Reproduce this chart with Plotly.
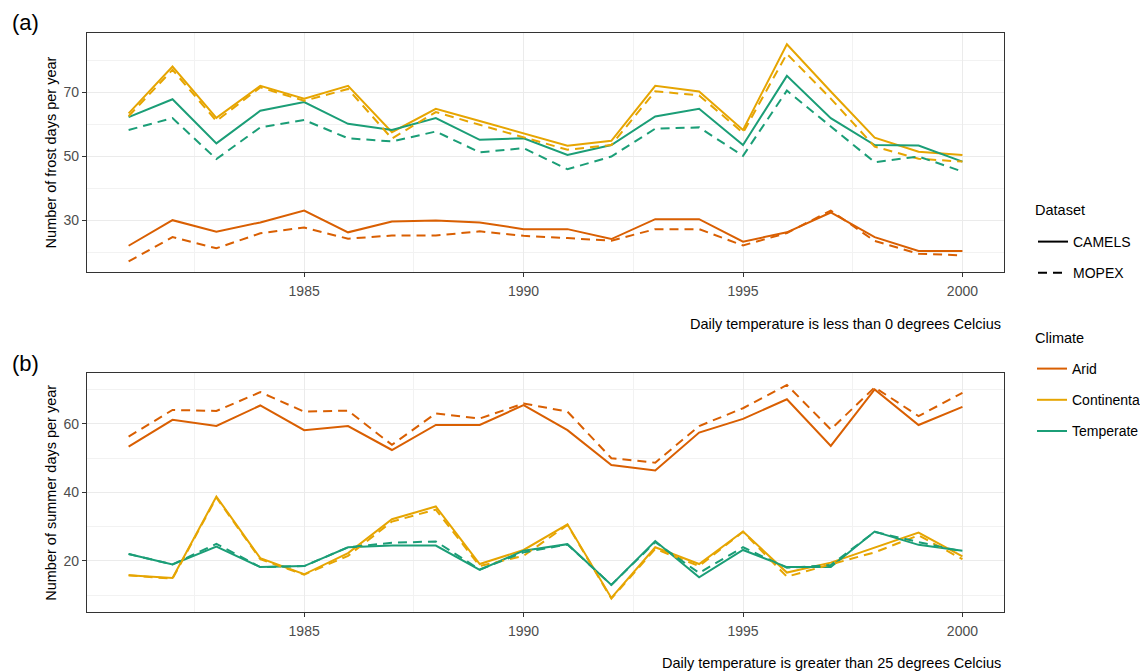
import plotly.graph_objects as go
from plotly.subplots import make_subplots

years = list(range(1981, 2001))

# Panel (a): number of frost days per year
frost_arid_camels = [22, 30, 26.4, 29.3, 33, 26.2, 29.6, 29.9, 29.3, 27.2, 27.2, 24.1, 30.3, 30.3, 23.3, 26.2, 32.4, 24.7, 20.4, 20.4]
frost_arid_mopex = [17.1, 24.7, 21.2, 25.9, 27.7, 24.2, 25.2, 25.2, 26.5, 25.1, 24.4, 23.6, 27.2, 27.2, 22.1, 26, 33, 23.5, 19.5, 19]
frost_cont_camels = [63.4, 78, 62, 72, 68, 72, 57.5, 64.8, 61, 57.2, 53.3, 54.8, 72, 70.2, 58.2, 85, 70.2, 55.8, 51.4, 50.4]
frost_cont_mopex = [62.5, 77, 61, 71.5, 67.3, 71, 55.5, 63.8, 59.8, 55.8, 52, 53.5, 70.3, 69, 57.3, 82, 68, 53, 49.2, 48.3]
frost_temp_camels = [62.2, 67.8, 54, 64.2, 66.9, 60.1, 58.2, 61.9, 55.1, 55.6, 50.4, 53.5, 62.4, 64.8, 53.5, 75.1, 61.9, 53.5, 53.3, 48.3]
frost_temp_mopex = [58.2, 61.9, 49.1, 59, 61.3, 55.6, 54.6, 57.7, 51.2, 52.5, 45.9, 49.9, 58.6, 59, 50.1, 70.5, 59.3, 48.1, 49.9, 45.2]

# Panel (b): number of summer days per year
summer_arid_camels = [53.4, 61.2, 59.4, 65.4, 58.2, 59.4, 52.4, 59.7, 59.7, 65.5, 58.2, 48, 46.4, 57.5, 61.5, 67.2, 53.6, 70.1, 59.7, 65]
summer_arid_mopex = [56.3, 64.1, 63.8, 69.3, 63.6, 63.9, 53.9, 63.1, 61.6, 66, 63.6, 50, 48.7, 59.4, 64.6, 71.4, 58.4, 70.7, 62.3, 69.1]
summer_cont_camels = [15.8, 15, 38.8, 20.8, 16.1, 22.3, 32.2, 35.9, 19.1, 23.2, 30.7, 9.2, 24, 19.1, 28.6, 16.6, 19.5, 24, 28.3, 21.3]
summer_cont_mopex = [15.8, 14.8, 38.5, 20.5, 16, 21.5, 31.5, 35, 18.5, 21.5, 30.5, 9, 23.5, 18.5, 28.5, 15.4, 19, 22.5, 27.5, 20.5]
summer_temp_camels = [22, 19, 24.2, 18.2, 18.5, 24, 24.5, 24.5, 17.4, 23, 24.9, 13, 25.8, 15.2, 23.2, 18.2, 18.2, 28.6, 24.7, 23]
summer_temp_mopex = [22, 19, 25, 18.2, 18.5, 24, 25.3, 25.7, 17.5, 22.5, 24.8, 13, 25.5, 16.5, 24, 18, 18.8, 28.5, 25.5, 22.8]

climates = ["Arid", "Continental", "Temperate"]
datasets = ["CAMELS", "MOPEX"]
colors = {"Arid": "#D95F02", "Continental": "#E6A502", "Temperate": "#1B9E77"}
dashes = {"CAMELS": "solid", "MOPEX": "9px,6px"}

panel_a = {
    ("Arid", "CAMELS"): frost_arid_camels, ("Arid", "MOPEX"): frost_arid_mopex,
    ("Continental", "CAMELS"): frost_cont_camels, ("Continental", "MOPEX"): frost_cont_mopex,
    ("Temperate", "CAMELS"): frost_temp_camels, ("Temperate", "MOPEX"): frost_temp_mopex,
}
panel_b = {
    ("Arid", "CAMELS"): summer_arid_camels, ("Arid", "MOPEX"): summer_arid_mopex,
    ("Continental", "CAMELS"): summer_cont_camels, ("Continental", "MOPEX"): summer_cont_mopex,
    ("Temperate", "CAMELS"): summer_temp_camels, ("Temperate", "MOPEX"): summer_temp_mopex,
}

# page body has an 8px margin; figure fills the rest of the window
OFF = 8
W, H = 1148 - OFF, 672 - OFF


def px(x):
    return (x - OFF) / W


def py(y):
    return 1 - (y - OFF) / H


fig = make_subplots(rows=2, cols=1)

for row, panel in ((1, panel_a), (2, panel_b)):
    for ds in datasets:
        for cl in climates:
            fig.add_trace(go.Scatter(
                x=years, y=panel[(cl, ds)], mode="lines",
                line=dict(color=colors[cl], width=2, dash=dashes[ds]),
                showlegend=False, hoverinfo="x+y", name=f"{cl} {ds}"),
                row=row, col=1)

# Legend entries: Dataset
for ds in datasets:
    fig.add_trace(go.Scatter(
        x=[None], y=[None], mode="lines", name=ds,
        line=dict(color="black", width=2, dash=dashes[ds]),
        legend="legend", legendgroup="d" + ds, showlegend=True))
# Legend entries: Climate
for cl in climates:
    fig.add_trace(go.Scatter(
        x=[None], y=[None], mode="lines", name=cl,
        line=dict(color=colors[cl], width=2),
        legend="legend2", legendgroup="c" + cl, showlegend=True))

font_family = "Liberation Sans, Arial, sans-serif"
x_dom = [px(87), px(1005)]
ya_dom = [py(272), py(33)]
yb_dom = [py(612.3), py(373.3)]

axis_common = dict(
    showline=True, mirror=True, linecolor="#333333", linewidth=1,
    showgrid=True, gridcolor="#EBEBEB", gridwidth=1,
    ticks="outside", ticklen=4, tickcolor="#333333",
    tickfont=dict(family=font_family, size=14, color="#4D4D4D"),
    zeroline=False,
)

xminor = dict(dtick=5, tick0=1982.5, showgrid=True, gridcolor="#F2F2F2", gridwidth=0.6, ticks="")
for ax in ("xaxis", "xaxis2"):
    fig.layout[ax].update(**axis_common, domain=x_dom, range=[1980.05, 2000.95],
                          tickmode="array", tickvals=[1985, 1990, 1995, 2000],
                          minor=xminor, ticklabelstandoff=2)

yminor_a = dict(tickmode="array", tickvals=[20, 40, 60, 80], showgrid=True,
                gridcolor="#F2F2F2", gridwidth=0.6, ticks="")
yminor_b = dict(tickmode="array", tickvals=[10, 30, 50, 70], showgrid=True,
                gridcolor="#F2F2F2", gridwidth=0.6, ticks="")

title_font = dict(family=font_family, size=14.5, color="black")
fig.layout.yaxis.update(**axis_common, domain=ya_dom, range=[13.8, 88.5],
                        tickmode="array", tickvals=[30, 50, 70], minor=yminor_a,
                        title=dict(text="Number of frost days per year",
                                   font=title_font, standoff=3))
fig.layout.yaxis2.update(**axis_common, domain=yb_dom, range=[5.0, 74.8],
                         tickmode="array", tickvals=[20, 40, 60], minor=yminor_b,
                         title=dict(text="Number of summer days per year",
                                    font=title_font, standoff=3))

legend_font = dict(family=font_family, size=14, color="black")
annotations = [
    dict(text="(a)", x=px(10), y=py(23), xref="paper", yref="paper",
         xanchor="left", yanchor="middle", showarrow=False,
         font=dict(family=font_family, size=22, color="black")),
    dict(text="(b)", x=px(10), y=py(363), xref="paper", yref="paper",
         xanchor="left", yanchor="middle", showarrow=False,
         font=dict(family=font_family, size=22, color="black")),
    dict(text="Daily temperature is less than 0 degrees Celcius", x=px(1004), y=py(324),
         xref="paper", yref="paper", xanchor="right", yanchor="middle", showarrow=False,
         font=title_font),
    dict(text="Daily temperature is greater than 25 degrees Celcius", x=px(1004), y=py(663),
         xref="paper", yref="paper", xanchor="right", yanchor="middle", showarrow=False,
         font=title_font),
    dict(text="Dataset", x=px(1034), y=py(210), xref="paper", yref="paper",
         xanchor="left", yanchor="middle", showarrow=False, font=title_font),
    dict(text="Climate", x=px(1034), y=py(338), xref="paper", yref="paper",
         xanchor="left", yanchor="middle", showarrow=False, font=title_font),
]

legend_common = dict(
    font=legend_font,
    bgcolor="rgba(0,0,0,0)", borderwidth=0,
    traceorder="grouped", tracegroupgap=10, itemwidth=30,
    xanchor="left", yanchor="top",
)

fig.update_layout(
    width=W, height=H,
    margin=dict(l=0, r=0, t=0, b=0),
    paper_bgcolor="white", plot_bgcolor="white",
    font=legend_font,
    annotations=annotations,
    legend=dict(**legend_common, x=px(1033), y=py(226)),
    legend2=dict(**legend_common, x=px(1033), y=py(353)),
)

fig.write_html("out.html")
